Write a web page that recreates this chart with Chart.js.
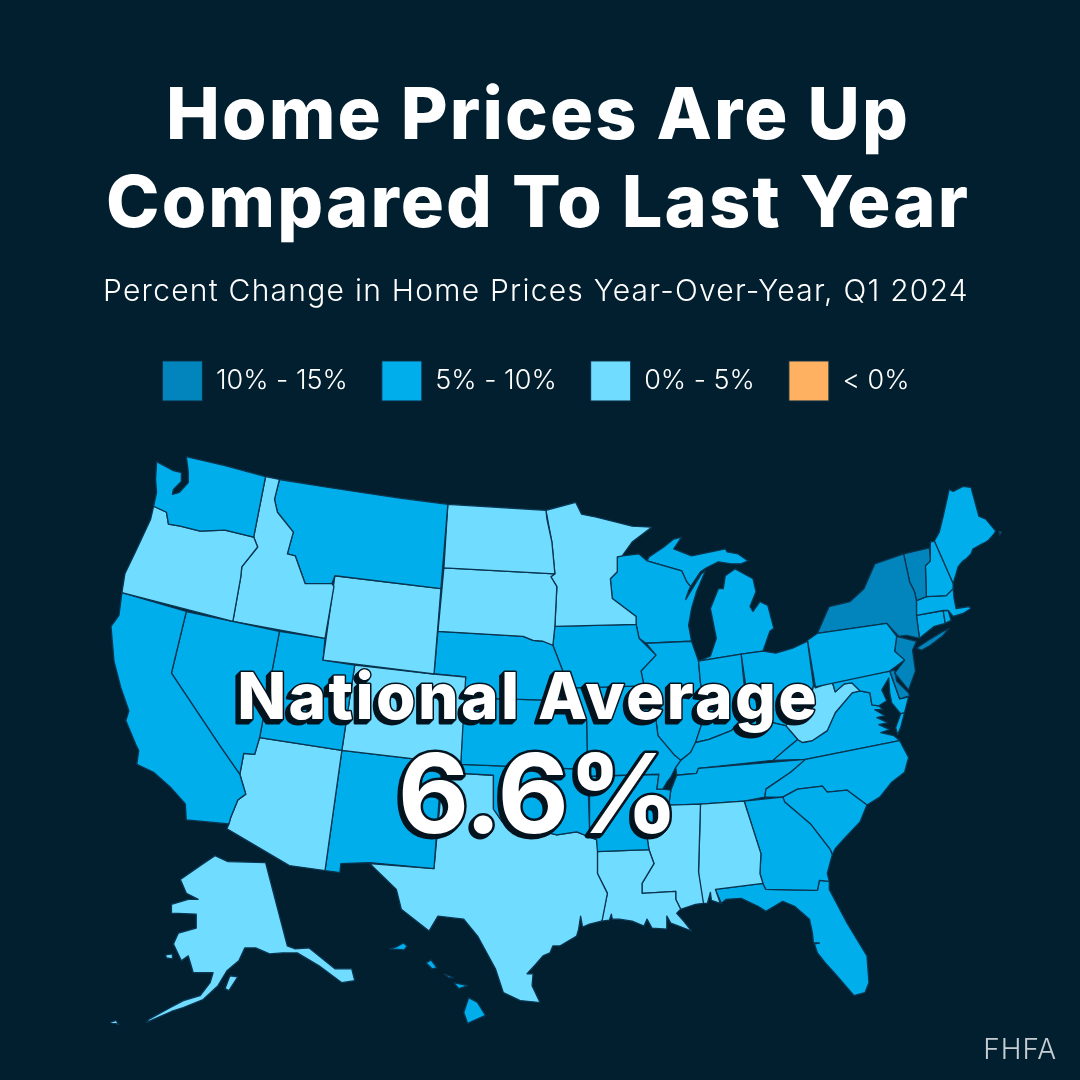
<!DOCTYPE html>
<html><head><meta charset="utf-8">
<style>html,body{margin:0;padding:0;background:#021f2f}#wrap{width:1080px;height:1080px}</style>
<script src="https://cdn.jsdelivr.net/npm/chart.js@4"></script>
</head><body><div id="wrap"><canvas id="c" width="1080" height="1080"></canvas></div>
<script>
const titleLines = ["Home Prices Are Up", "Compared To Last Year"];
const subtitleText = "Percent Change in Home Prices Year-Over-Year, Q1 2024";
const binLabels = ["10% - 15%", "5% - 10%", "0% - 5%", "< 0%"];
const binColors = ["#0284bc", "#00aeec", "#70dcff", "#ffb162"];
const calloutLabel = "National Average";
const calloutValue = "6.6%";
const sourceText = "FHFA";

const bin0 = ["NY", "VT", "NJ", "DE"];
const bin1 = ["WA", "MT", "CA", "NV", "UT", "NM", "NE", "KS", "OK", "IA", "MO", "AR", "IL", "IN", "OH", "WI", "MI", "PA", "KY", "TN", "VA", "MD", "NC", "SC", "GA", "FL", "ME", "NH", "MA", "RI", "CT", "HI"];
const bin2 = ["OR", "ID", "WY", "CO", "ND", "SD", "MN", "AZ", "TX", "LA", "MS", "AL", "WV", "AK"];
const bin3Points = [{ name: "DC", at: [878, 696] }];

/* State outlines, in map units */
const WA = [[[153,462],[170,471],[178,473],[178,482],[170,490],[169,495],[176,493],[185,483],[185,472],[183,457],[222,466],[263,477],[251,538],[222,531],[197,532],[177,527],[165,525],[163,513],[150,507],[153,493],[152,480]]];
const OR = [[[150,507],[163,513],[165,525],[177,527],[197,532],[222,531],[251,538],[255,548],[239,568],[238,578],[230,623],[118,594],[121,575],[133,550],[147,520]]];
const CA = [[[118,594],[183,613],[168,675],[218,750],[237,777],[243,797],[235,803],[228,820],[226,827],[183,823],[182,807],[167,790],[150,775],[133,767],[135,753],[132,747],[122,723],[125,713],[117,690],[110,663],[107,628],[115,617]]];
const NV = [[[183,613],[277,633],[257,740],[252,757],[241,756],[237,777],[218,750],[168,675]]];
const ID = [[[263,477],[277,480],[272,500],[275,513],[291,533],[285,555],[293,557],[303,585],[330,585],[332,588],[323,640],[230,623],[238,578],[239,568],[255,548],[251,538]]];
const MT = [[[277,480],[320,487],[353,492],[400,499],[447,505],[440,590],[333,577],[330,585],[303,585],[293,557],[285,555],[291,533],[275,513],[272,500]]];
const WY = [[[333,577],[440,590],[433,676],[321,662]]];
const UT = [[[277,633],[323,640],[321,662],[353,667],[340,753],[257,740]]];
const CO = [[[353,667],[433,676],[465,679],[460,767],[340,753]]];
const AZ = [[[257,740],[340,753],[323,874],[287,869],[224,832],[226,827],[228,820],[235,803],[243,797],[237,777],[241,756],[252,757]]];
const NM = [[[340,753],[441,765],[433,872],[368,866],[339,867],[338,876],[323,874]]];
const ND = [[[447,505],[546,511],[547,520],[552,543],[555,575],[443,569]]];
const SD = [[[443,569],[555,575],[551,578],[557,588],[555,628],[553,647],[543,643],[533,642],[523,638],[437,633]]];
const NE = [[[437,633],[523,638],[533,642],[543,643],[553,647],[563,673],[575,703],[463,700],[465,679],[433,676]]];
const KS = [[[463,700],[575,703],[583,712],[587,722],[588,772],[460,767]]];
const OK = [[[441,765],[460,767],[588,772],[590,833],[597,843],[577,835],[557,838],[502,825],[493,812],[493,778],[442,775]]];
const TX = [[[442,775],[493,778],[493,812],[502,825],[557,838],[577,835],[597,843],[598,855],[598,877],[608,897],[603,923],[602,925],[590,928],[583,931],[581,920],[579,933],[577,940],[560,950],[553,950],[550,957],[543,960],[536,968],[527,978],[533,978],[532,990],[540,1007],[520,1005],[503,997],[495,973],[477,940],[463,923],[437,920],[428,935],[400,913],[395,893],[368,867],[433,872]]];
const MN = [[[546,511],[576,503],[582,515],[597,518],[617,523],[633,527],[653,528],[633,543],[623,557],[618,558],[618,573],[611,580],[613,600],[637,618],[637,626],[555,628],[557,588],[551,578],[555,575],[552,543]]];
const IA = [[[555,628],[637,626],[640,640],[657,657],[642,673],[645,688],[575,690],[563,673],[553,647]]];
const MO = [[[575,690],[645,688],[650,700],[657,722],[659,738],[675,757],[682,763],[677,770],[672,780],[668,785],[664,792],[658,792],[660,777],[590,779],[588,772],[587,722],[583,712]]];
const AR = [[[590,779],[660,777],[658,792],[664,792],[672,793],[670,808],[657,825],[648,840],[650,853],[597,855],[597,843],[590,833]]];
const LA = [[[598,855],[650,853],[655,867],[643,887],[643,897],[677,895],[677,903],[682,913],[678,917],[685,925],[693,935],[680,930],[672,927],[668,920],[668,933],[653,932],[648,923],[645,930],[633,925],[620,923],[613,923],[612,918],[610,924],[602,925],[608,897],[598,877]]];
const MS = [[[670,808],[702,807],[700,875],[705,907],[697,908],[685,912],[682,913],[677,903],[677,895],[643,897],[643,887],[655,867],[650,853],[648,840],[657,825]]];
const AL = [[[702,807],[746,804],[763,857],[762,877],[765,887],[717,893],[722,907],[713,904],[712,896],[709,907],[704,907],[700,877]]];
const GA = [[[746,804],[785,800],[787,805],[813,827],[833,853],[835,858],[830,877],[832,885],[822,884],[820,894],[768,893],[765,887],[762,877],[763,857]]];
const FL = [[[717,893],[765,887],[768,893],[820,894],[822,884],[832,885],[832,893],[850,927],[870,960],[872,987],[868,997],[857,1000],[837,977],[828,967],[820,957],[817,948],[822,947],[816,947],[815,937],[812,923],[797,910],[785,905],[768,915],[760,910],[743,902],[728,903],[723,907]]];
const SC = [[[785,800],[800,792],[825,789],[830,795],[850,793],[870,808],[863,825],[847,842],[838,852],[835,858],[833,853],[813,827],[787,805]]];
const NC = [[[808,762],[903,743],[912,760],[908,775],[895,785],[883,800],[870,808],[850,793],[830,795],[825,789],[800,792],[785,800],[767,800],[768,792],[793,775]]];
const TN = [[[670,808],[702,807],[746,804],[767,800],[768,792],[793,775],[808,762],[700,771],[698,776],[678,778],[672,793]]];
const KY = [[[678,778],[698,776],[700,771],[775,763],[790,750],[800,742],[788,728],[770,724],[750,717],[745,725],[733,733],[723,737],[710,742],[697,745],[692,755],[682,763],[677,770]]];
const IN = [[[700,663],[743,656],[749,716],[733,733],[723,737],[710,742],[697,745],[703,727],[705,700],[702,685]]];
const OH = [[[743,656],[765,653],[778,655],[795,650],[810,643],[816,687],[814,697],[805,710],[788,728],[770,724],[750,717],[747,683]]];
const IL = [[[647,645],[693,643],[700,663],[702,685],[705,700],[703,727],[697,745],[692,755],[682,763],[675,757],[659,738],[657,722],[650,700],[645,688],[642,673],[657,657]]];
const WI = [[[618,558],[623,557],[640,555],[648,562],[683,572],[688,583],[692,588],[690,592],[687,601],[703,575],[707,572],[698,593],[693,610],[690,627],[693,643],[647,645],[640,640],[637,626],[637,618],[613,600],[611,580],[618,573]]];
const MI = [[[700,663],[712,658],[718,640],[712,610],[720,590],[725,590],[727,577],[737,570],[755,580],[758,593],[752,608],[755,613],[762,603],[770,607],[776,630],[772,633],[765,653],[743,656]],
            [[648,562],[650,558],[665,548],[675,540],[683,538],[675,550],[693,557],[727,550],[729,553],[740,555],[750,562],[743,565],[733,565],[720,563],[708,569],[702,573],[692,588],[688,583],[683,572]]];
const PA = [[[810,642],[820,635],[890,625],[900,638],[898,653],[908,662],[893,673],[818,689]]];
const NY = [[[820,635],[830,612],[832,608],[853,603],[867,590],[878,565],[907,555],[913,583],[918,593],[920,602],[920,617],[923,640],[910,637],[902,638],[890,625]],
            [[920,650],[932,642],[945,634],[953,630],[946,638],[934,647],[925,652]]];
const VT = [[[907,555],[933,549],[934,562],[929,567],[930,598],[920,602],[918,593],[913,583]]];
const NH = [[[934,543],[938,542],[957,585],[957,590],[950,597],[930,598],[929,567],[934,562]]];
const ME = [[[938,542],[943,533],[947,517],[953,490],[957,492],[967,487],[975,488],[983,517],[990,520],[1000,532],[998,535],[993,541],[990,543],[984,546],[977,550],[975,555],[970,560],[966,563],[962,568],[960,575],[957,585]],[[1003,532],[1006,533],[1004,536]]];
const MA = [[[920,602],[930,598],[950,597],[957,590],[958,600],[960,610],[973,608],[975,610],[967,615],[957,618],[952,612],[947,612],[920,617]]];
const RI = [[[947,612],[952,612],[955,622],[949,625]]];
const CT = [[[920,617],[947,612],[949,625],[938,628],[923,640]]];
const NJ = [[[900,638],[920,643],[916,652],[919,673],[912,692],[898,675],[908,662],[898,653]]];
const DE = [[[893,673],[898,672],[900,683],[912,695],[913,698],[903,701]]];
const MD = [[[835,684],[893,673],[903,701],[912,699],[908,715],[904,716],[895,705],[893,695],[892,680],[885,692],[890,703],[882,708],[875,707],[873,695],[863,693],[855,685],[847,686],[838,694]]];
const WV = [[[816,687],[818,690],[835,684],[838,694],[847,686],[855,685],[863,693],[855,695],[838,715],[830,733],[815,743],[805,745],[800,742],[788,728],[805,710],[814,697]]];
const VA = [[[775,763],[790,750],[800,742],[805,745],[815,743],[830,733],[838,715],[855,695],[863,693],[873,695],[875,707],[882,708],[886,712],[878,712],[888,718],[880,720],[891,725],[882,727],[893,732],[884,735],[897,738],[903,743],[808,762]],
            [[904,716],[908,715],[904,730],[901,737],[899,730]]];
const HI = [[[468,1002],[477,1007],[485,1020],[467,1028],[463,1017]],
            [[453,987],[467,990],[458,993]],[[443,978],[453,982],[448,982]],
            [[425,967],[430,964],[436,972],[431,973]],[[395,951],[402,947],[406,950],[403,954],[388,953]]];
const AK = [[[212,859],[225,865],[263,866],[285,950],[293,953],[307,952],[333,973],[350,973],[353,985],[340,987],[317,970],[295,957],[280,957],[267,958],[253,952],[242,952],[236,965],[224,975],[215,990],[200,1004],[180,1012],[168,1016],[150,1024],[143,1027],[145,1024],[167,1012],[180,1005],[197,1000],[207,987],[210,977],[190,977],[185,960],[178,965],[170,948],[175,937],[193,932],[193,918],[168,917],[168,908],[185,903],[195,903],[183,897],[177,883],[200,867]],
            [[227,980],[235,981],[226,995],[222,993]],[[162,959],[169,958],[169,963],[163,962]],[[106,1027],[112,1025],[115,1029]]];

const outlines = {WA,OR,CA,NV,ID,MT,WY,UT,CO,AZ,NM,ND,SD,NE,KS,OK,TX,MN,IA,MO,AR,LA,MS,AL,GA,FL,SC,NC,TN,KY,IN,OH,IL,WI,MI,PA,NY,VT,NH,ME,MA,RI,CT,NJ,DE,MD,WV,VA,HI,AK};

const BG = "#021f2f", EDGE = "#0a3550";
function binOf(s){ return bin0.includes(s)?0 : bin1.includes(s)?1 : 2; }
const datasets = [];
Object.keys(outlines).forEach(s=>{
  outlines[s].forEach(ring=>{
    const pts = ring.concat([ring[0]]).map(p=>({x:p[0],y:p[1]}));
    datasets.push({label:s,data:pts,showLine:true,fill:'shape',tension:0,pointRadius:0,pointHoverRadius:0,
      backgroundColor:binColors[binOf(s)],borderColor:EDGE,borderWidth:1.3,borderJoinStyle:'round'});
  });
});
bin3Points.forEach(p=>datasets.push({label:p.name,data:[{x:p.at[0],y:p.at[1]}],showLine:false,pointRadius:4,
  backgroundColor:binColors[3],borderColor:EDGE,borderWidth:1}));

const FF = "Inter, 'Noto Sans', sans-serif";
const backdrop = {id:'backdrop',beforeDraw(c){const x=c.ctx;x.save();x.fillStyle=BG;x.fillRect(0,0,c.width,c.height);x.restore();}};
const callout = {id:'callout',afterDraw(c){
  const x=c.ctx; x.save(); x.textAlign='center'; x.textBaseline='alphabetic'; x.lineJoin='round';
  const cx=c.scales.x.getPixelForValue(527);
  const py=v=>c.scales.y.getPixelForValue(v);
  function layered(t,font,bx,by,depth,sw,ls){
    x.font=font; x.letterSpacing=ls;
    for(let i=depth;i>=1;i--){x.strokeStyle='#04141f';x.lineWidth=sw;x.fillStyle='#04141f';
      x.strokeText(t,bx-i,by+i);x.fillText(t,bx-i,by+i);}
    x.strokeStyle='#04141f';x.lineWidth=sw;x.strokeText(t,bx,by);
    x.fillStyle='#fff';x.fillText(t,bx,by);
    x.letterSpacing='0px';
  }
  layered(calloutLabel,"800 64px "+FF,cx+1,py(721),4,3,'2.4px');
  layered(calloutValue,"700 110px "+FF,cx+11,py(836),3,5,'-1px');
  x.font="300 28px "+FF; x.fillStyle='#c6ced3'; x.textAlign='right';
  x.letterSpacing='1px';
  x.fillText(sourceText,c.scales.x.getPixelForValue(1062),py(1064));
  x.letterSpacing='0px';
  x.restore();
}};

const chart = new Chart(document.getElementById('c'),{
  type:'scatter',
  data:{datasets},
  plugins:[backdrop,callout],
  options:{
    responsive:false,animation:false,devicePixelRatio:1,
    layout:{padding:0},
    events:[],
    scales:{
      x:{type:'linear',display:false,min:0,max:1080},
      y:{type:'linear',display:false,reverse:true,min:410,max:1080}
    },
    plugins:{
      tooltip:{enabled:false},
      title:{display:true,text:titleLines,color:'#fff',font:{family:FF,size:72,weight:'800',lineHeight:1.222},padding:{top:73,bottom:25}},
      subtitle:{display:true,text:subtitleText,color:'#fff',font:{family:FF,size:30,weight:'300',lineHeight:1.2},padding:{top:0,bottom:17}},
      legend:{display:true,position:'top',align:'center',
        labels:{boxWidth:40,boxHeight:40,padding:34,color:'#fff',font:{family:FF,size:27,weight:'300'},
          generateLabels:()=>binLabels.map((t,i)=>({text:t,fillStyle:binColors[i],strokeStyle:'#0b2f45',lineWidth:1,fontColor:'#fff',hidden:false,datasetIndex:0}))}}
    }
  }
});
/* tracking and small horizontal nudges for the heading blocks and the legend */
chart.boxes.forEach(b=>{
  const isLegend = b === chart.legend;
  if(!isLegend && (!b.options || b.options.text===undefined)) return;
  const isTitle = !isLegend && Array.isArray(b.options.text);
  const ls = isLegend ? '0px' : isTitle ? '2.1px' : '1.25px';
  const dx = isLegend ? -4 : isTitle ? -2 : -4;
  const d = b.draw;
  b.draw = function(a){ const x=this.ctx; x.save(); x.translate(dx,0); x.letterSpacing = ls; d.call(this,a); x.letterSpacing='0px'; x.restore(); };
});
chart.options.scales.y.min = chart.chartArea.top;
chart.update();
</script></body></html>
